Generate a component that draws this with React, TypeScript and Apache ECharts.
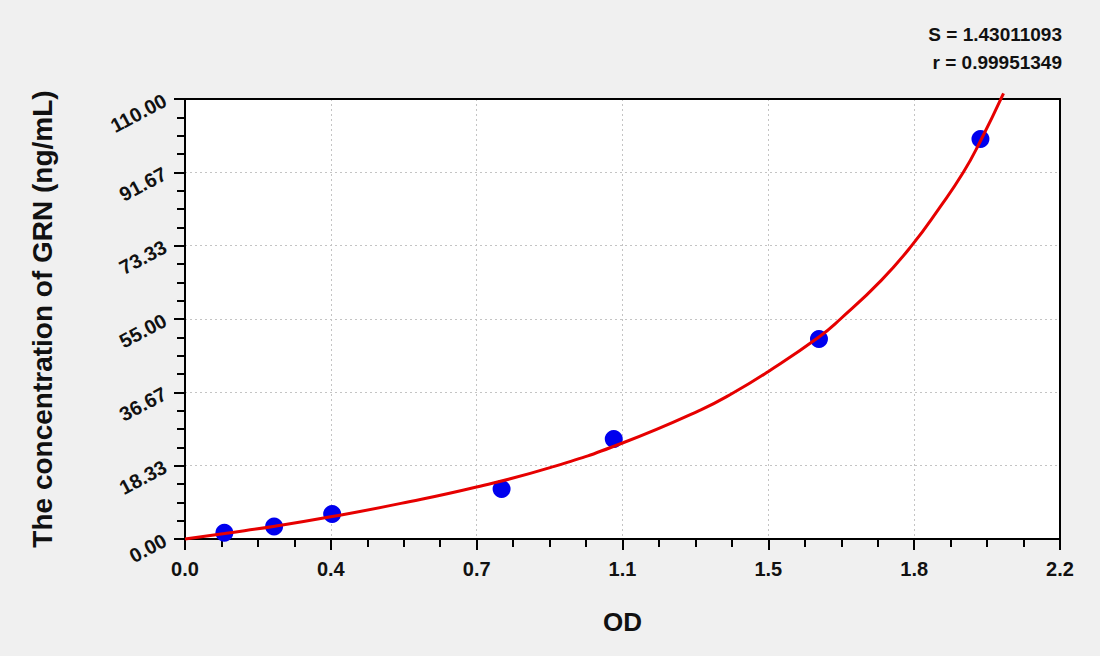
import { useEffect, useRef } from 'react'
import * as echarts from 'echarts'

// ── Data ─────────────────────────────────────────────────────────────────────

// standards: OD vs concentration (ng/mL)
const pointOd = [0.099, 0.224, 0.37, 0.796, 1.078, 1.594, 2.0]
const pointConc = [1.56, 3.13, 6.25, 12.5, 25, 50, 100]

// fitted curve, sampled along the red line
const curveOd = [0, 0.1, 0.226, 0.37, 0.543, 0.733, 0.92, 1.1, 1.297, 1.381, 1.467, 1.594, 1.648, 1.75, 1.827, 1.897, 1.957, 2.0, 2.058]
const curveConc = [0, 1.4, 3.2, 5.6, 8.9, 13.0, 17.9, 24.0, 32.3, 36.67, 41.9, 50.5, 55.0, 64.6, 73.33, 82.8, 91.67, 99.5, 111.4]

const xTickLabels = ['0.0', '0.4', '0.7', '1.1', '1.5', '1.8', '2.2']
const yTickLabels = ['0.00', '18.33', '36.67', '55.00', '73.33', '91.67', '110.00']

const statLines = ['S = 1.43011093', 'r = 0.99951349']

const X_MAX = 2.2
const Y_MAX = 110

const FONT = '"Liberation Sans", Arial, sans-serif'

export default function App() {
  const ref = useRef<HTMLDivElement>(null)

  useEffect(() => {
    if (!ref.current) return
    const chart = echarts.init(ref.current, null, { renderer: 'svg' })

    const tickStyle = { color: '#000', width: 2 }
    const axisCommon = {
      axisLine: { show: true, onZero: false, lineStyle: { color: '#000', width: 2 } },
      axisTick: { show: true, inside: false, length: 11, lineStyle: tickStyle },
      minorTick: { show: true, splitNumber: 4, length: 8, lineStyle: tickStyle },
      splitLine: { show: true, lineStyle: { color: '#c4c4c4', type: [2, 3] as number[], width: 1 } },
      minorSplitLine: { show: false },
    }
    // plain frame lines on the top and right edges
    const frameAxis = {
      axisLine: { show: true, onZero: false, lineStyle: { color: '#000', width: 2 } },
      axisTick: { show: false },
      axisLabel: { show: false },
      splitLine: { show: false },
    }

    chart.setOption({
      animation: false,
      backgroundColor: '#f0f0f0',
      grid: {
        left: 185,
        right: 40,
        top: 99,
        bottom: 117,
        show: true,
        backgroundColor: '#ffffff',
        borderWidth: 0,
      },
      xAxis: [
        {
          type: 'value',
          min: 0,
          max: X_MAX,
          interval: X_MAX / 6,
          name: 'OD',
          nameLocation: 'middle',
          nameGap: 70,
          nameTextStyle: { fontFamily: FONT, fontWeight: 'bold', fontSize: 26, color: '#111' },
          axisLabel: {
            margin: 20,
            fontFamily: FONT,
            fontWeight: 'bold',
            fontSize: 20,
            color: '#111',
            formatter: (_v: number, i: number) => xTickLabels[i] ?? '',
          },
          ...axisCommon,
        },
        { type: 'value', position: 'top', min: 0, max: X_MAX, ...frameAxis },
      ],
      yAxis: [
        {
          type: 'value',
          min: 0,
          max: Y_MAX,
          interval: Y_MAX / 6,
          name: 'The concentration of GRN (ng/mL)',
          nameLocation: 'middle',
          nameGap: 129,
          nameRotate: 90,
          nameTextStyle: { fontFamily: FONT, fontWeight: 'bold', fontSize: 28, color: '#111' },
          axisLabel: {
            margin: 20,
            rotate: 28,
            fontFamily: FONT,
            fontWeight: 'bold',
            fontSize: 20,
            color: '#111',
            formatter: (_v: number, i: number) => yTickLabels[i] ?? '',
          },
          ...axisCommon,
        },
        { type: 'value', position: 'right', min: 0, max: Y_MAX, ...frameAxis },
      ],
      graphic: statLines.map((t, i) => ({
        type: 'text',
        right: 38,
        top: 25 + i * 28,
        style: { text: t, fontFamily: FONT, fontWeight: 'bold', fontSize: 19, fill: '#111' },
      })),
      series: [
        {
          type: 'scatter',
          data: pointOd.map((x, i) => [x, pointConc[i]]),
          symbol: 'circle',
          symbolSize: 18,
          itemStyle: { color: '#0000ee', opacity: 1 },
          z: 2,
        },
        {
          type: 'line',
          data: curveOd.map((x, i) => [x, curveConc[i]]),
          smooth: 0.5,
          symbol: 'none',
          clip: false,
          lineStyle: { color: '#e60000', width: 3 },
          z: 3,
        },
      ],
    })

    return () => { chart.dispose() }
  }, [])

  return <div ref={ref} style={{ position: 'fixed', left: 0, top: 0, width: 1100, height: 656 }} />
}
